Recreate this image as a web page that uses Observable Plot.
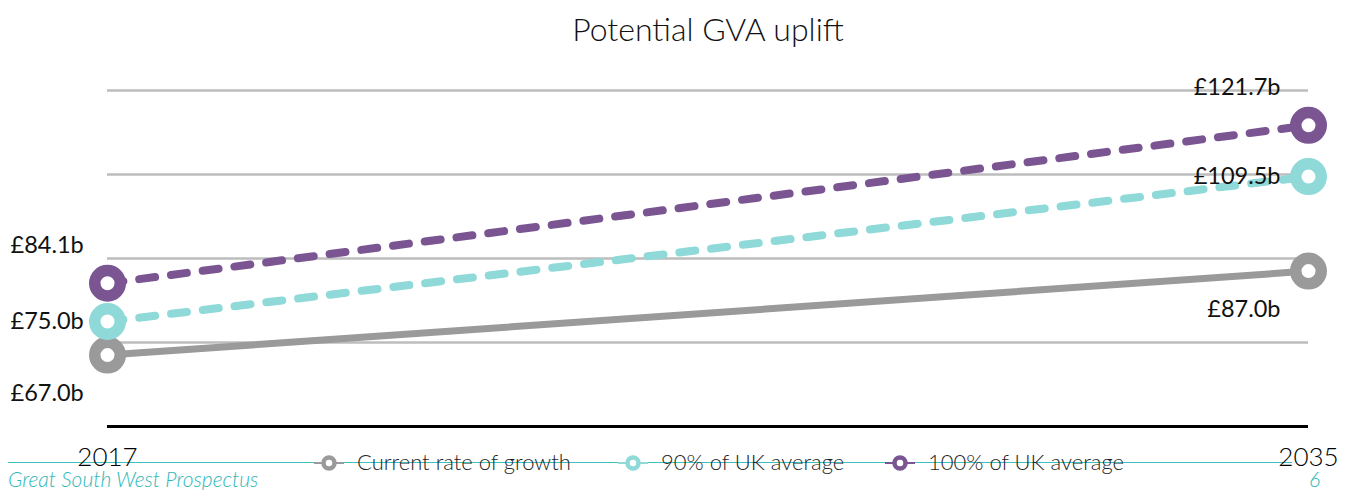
<!DOCTYPE html>
<html>
<head>
<meta charset="utf-8">
<script src="https://cdn.jsdelivr.net/npm/d3@7"></script>
<script src="https://cdn.jsdelivr.net/npm/@observablehq/plot@0.6"></script>
<style>
  html, body { margin: 0; padding: 0; background: #fff; }
  body { font-family: Lato, "Open Sans", sans-serif; }
  #wrap { position: relative; width: 1349px; height: 490px; overflow: hidden; }
  #title { position: absolute; left: 0; top: 9px; width: 1416px; text-align: center; font-size: 32px; font-weight: 300; color: #111; }
  #chart { position: absolute; left: 0; top: 60px; }
  #rule { position: absolute; left: 8px; top: 462px; width: 1284px; height: 0; border-top: 1.5px solid #3fc0c0; }
  .leg { position: absolute; top: 449px; font-size: 22px; font-weight: 300; color: #1f1f1f; white-space: nowrap; line-height: 26px; }
  .mk { position: absolute; top: 453px; }
  #foot { position: absolute; left: 8px; top: 466px; font-size: 21px; font-weight: 300; font-style: italic; color: #2fb8b8; }
  #page { position: absolute; left: 1309px; top: 466px; font-size: 21px; font-weight: 300; font-style: italic; color: #2fb8b8; }
</style>
</head>
<body>
<div id="wrap">
  <div id="rule"></div>
  <div id="title">Potential GVA uplift</div>
  <div id="chart"></div>
  <div id="legend"></div>
  <div id="foot">Great South West Prospectus</div>
  <div id="page">6</div>
</div>
<script>
const years = [2017, 2035];
const seriesNames = ["Current rate of growth", "90% of UK average", "100% of UK average"];
const currentValues = [67.0, 87.0];
const ninetyValues = [75.0, 109.5];
const hundredValues = [84.1, 121.7];
const gridValues = [70, 90, 110, 130];
const baseValue = 50;

const seriesValues = [currentValues, ninetyValues, hundredValues];
const colors = ["#9a9a9a", "#8fd9d9", "#7a5592"];
const dashes = [null, "16,16", "16,16"];
const widths = [7, 8, 8];
const labelDy = [38, 0, -38];

const data = [];
seriesNames.forEach((name, i) => {
  years.forEach((yr, j) => {
    data.push({series: name, idx: i, year: yr, value: seriesValues[i][j]});
  });
});
const fmt = d => "£" + d.value.toFixed(1) + "b";

const marks = [
  Plot.ruleY(gridValues, {stroke: "#bdbdbd", strokeWidth: 2.5}),
  Plot.ruleY([baseValue], {stroke: "#000", strokeWidth: 3})
];
seriesNames.forEach((name, i) => {
  const sd = data.filter(d => d.idx === i);
  marks.push(Plot.line(sd, {x: "year", y: "value", stroke: colors[i], strokeWidth: widths[i], strokeDasharray: dashes[i] || undefined}));
});
seriesNames.forEach((name, i) => {
  const sd = data.filter(d => d.idx === i);
  marks.push(Plot.dot(sd, {x: "year", y: "value", r: 12.75, fill: "#fff", stroke: colors[i], strokeWidth: 11.5}));
  marks.push(Plot.text(sd.filter(d => d.year === years[0]), {x: "year", y: "value", text: fmt, textAnchor: "start", dx: -97, dy: labelDy[i], fontSize: 23.5, fill: "#111"}));
  marks.push(Plot.text(sd.filter(d => d.year === years[1]), {x: "year", y: "value", text: fmt, textAnchor: "end", dx: -28, dy: labelDy[i], fontSize: 23.5, fill: "#111"}));
});
marks.push(Plot.axisX({ticks: years, tickFormat: d => String(d), tickSize: 0, tickPadding: 21, fontSize: 26, fontWeight: 300, fill: "#000", label: null}));

const chart = Plot.plot({
  width: 1349,
  height: 416,
  marginLeft: 107,
  marginRight: 41,
  marginTop: 30,
  marginBottom: 50,
  style: {fontFamily: "Lato, 'Open Sans', sans-serif", background: "transparent", overflow: "visible"},
  x: {domain: years, type: "linear", label: null},
  y: {domain: [baseValue, 130], axis: null},
  marks
});
document.getElementById("chart").appendChild(chart);

// legend
const legendX = [329, 633, 900];
const legend = document.getElementById("legend");
seriesNames.forEach((name, i) => {
  const mk = document.createElementNS("http://www.w3.org/2000/svg", "svg");
  mk.setAttribute("width", 30); mk.setAttribute("height", 20);
  mk.setAttribute("class", "mk");
  mk.style.left = (legendX[i] - 15) + "px";
  mk.innerHTML = `<line x1="0" x2="30" y1="10" y2="10" stroke="${colors[i]}" stroke-width="2"/>` +
    `<circle cx="15" cy="10" r="5.5" fill="#fff" stroke="${colors[i]}" stroke-width="4.5"/>`;
  legend.appendChild(mk);
  const t = document.createElement("div");
  t.className = "leg";
  t.style.left = (legendX[i] + 28) + "px";
  t.textContent = name;
  legend.appendChild(t);
});
</script>
</body>
</html>
